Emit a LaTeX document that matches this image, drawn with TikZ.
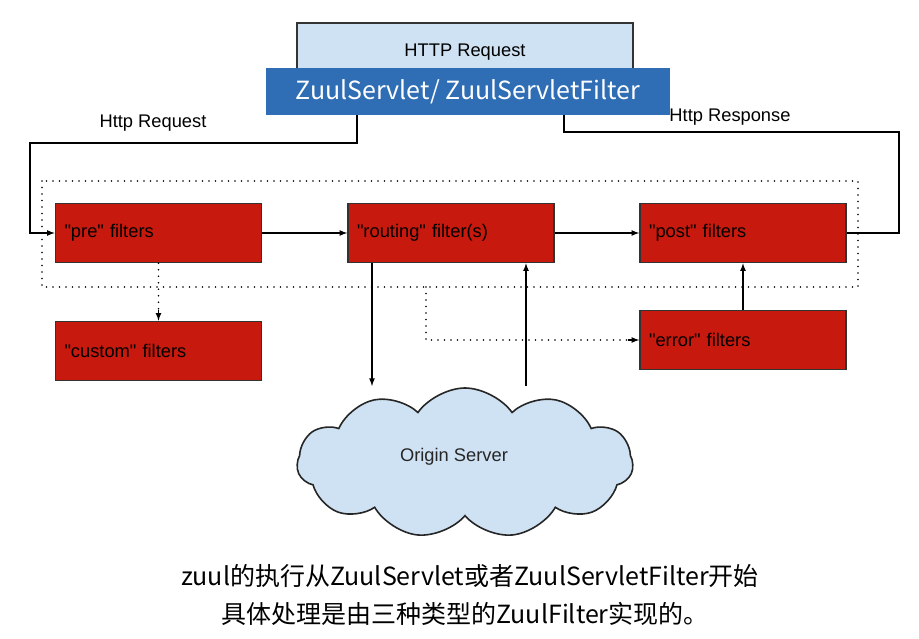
\documentclass[tikz,border=0pt]{standalone}
\usepackage{fontspec}
\setmainfont{Liberation Sans}
\newfontfamily\cjk{Noto Sans CJK SC}
\usetikzlibrary{positioning, arrows, shapes.symbols}
\definecolor{filterred}{RGB}{200,25,14}
\definecolor{servletblue}{RGB}{47,110,181}
\definecolor{paleblue}{RGB}{207,226,243}
\newcommand{\qt}[1]{\textquotedbl#1\textquotedbl}
\tikzset{
x=1pt, y=-1pt, % one unit is one pixel of the reference
filter/.style={draw=black!80, line width=1.6pt, fill=filterred, text width=188pt, align=left,
  inner xsep=9pt, minimum height=59pt, font=\fontsize{18.3}{20}\selectfont}, % the red boxes
link/.style={line width=1.6pt, -latex}, % solid arrows
dots/.style={line width=1.7pt, line cap=round, dash pattern=on 0pt off 6.5pt}, % dotted lines
label/.style={font=\fontsize{18.3}{20}\selectfont}, % small texts
}

\begin{document}
\begin{tikzpicture}
    \useasboundingbox (0,0) rectangle (919,639);

    % request box and servlet box
    \node[draw=black!80, line width=1.6pt, fill=paleblue, minimum width=336pt, minimum height=58pt,
          label] (httpreq) at (465,52) {HTTP Request};
    \node[fill=servletblue, text=white, minimum width=404pt, minimum height=47pt,
          font=\cjk\fontsize{25}{27}\selectfont] (servlet) at (468,91.5) {ZuulServlet/ ZuulServletFilter};

    % the filters
    \draw[dots] (42,181) rectangle (858,287);
    \node[filter] (pre) at (158.5,233) {\qt{pre} filters};
    \node[filter] (routing) at (451,233) {\qt{routing} filter(s)};
    \node[filter] (post) at (743,233) {\qt{post} filters};
    \node[filter] (custom) at (158.5,351) {\qt{custom} filters};
    \node[filter] (error) at (743,340) {\qt{error} filters};

    % origin server
    \node[cloud, draw=black!85, line width=1.6pt, fill=paleblue, cloud puffs=11, cloud puff arc=110,
          aspect=2.3, minimum width=336pt, minimum height=150pt] (origin) at (465,463) {};
    \node[label, text=black!85] (origintext) at (454,457) {Origin Server};

    % corner points
    \coordinate (reqdown) at (357,143);
    \coordinate (reqleft) at (30,143);
    \coordinate (respup) at (564,132);
    \coordinate (respright) at (899,132);
    \coordinate (errsplit) at (426,287);
    \coordinate (toorigin) at (372,386);
    \coordinate (fromorigin) at (526,386);

    \draw[link] (servlet.south -| reqdown) -- (reqdown) -- (reqleft) |- (pre.west);
    \draw[line width=1.6pt] (post.east) -| (respright) -- (respup) -- (servlet.south -| respup);
    \draw[link] (pre) -- (routing);
    \draw[link] (routing) -- (post);
    \draw[dots] (pre.south) -- ([yshift=10pt]custom.north);
    \draw[-latex, line width=1.6pt] ([yshift=11pt]custom.north) -- (custom.north);
    \draw[dots] (errsplit) |- ([xshift=-10pt]error.west);
    \draw[-latex, line width=1.6pt] ([xshift=-11pt]error.west) -- (error.west);
    \draw[link] (routing.south -| toorigin) -- (toorigin);
    \draw[link] (fromorigin) -- (routing.south -| fromorigin);
    \draw[link] (error) -- (post);

    \node[label] (reqtext) at (153,123) {Http Request};
    \node[label] (resptext) at (730,117) {Http Response};

    % caption
    \node[font=\cjk\fontsize{25}{27}\selectfont] (line1) at (470,576) {zuul的执行从ZuulServlet或者ZuulServletFilter开始};
    \node[font=\cjk\fontsize{25}{27}\selectfont] (line2) at (465,614) {具体处理是由三种类型的ZuulFilter实现的。};
\end{tikzpicture}
\end{document}
